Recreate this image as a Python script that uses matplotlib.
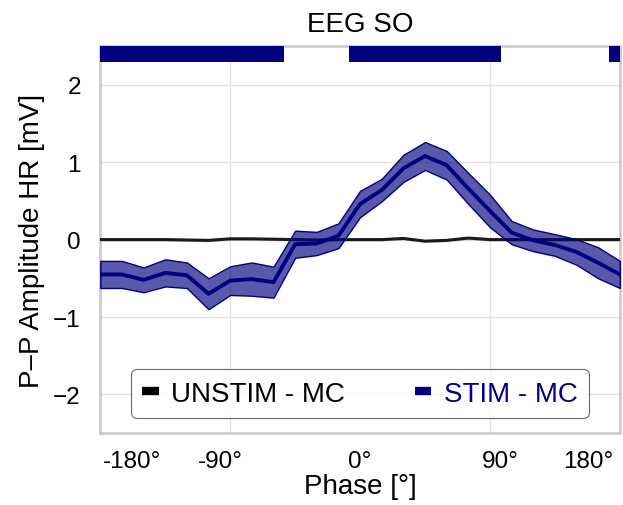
import numpy as np
import matplotlib.pyplot as plt
from matplotlib.lines import Line2D

plt.rcParams['font.family'] = ['Liberation Sans', 'DejaVu Sans']

# phase bins (deg)
phase = np.arange(-180, 181, 15)

# STIM - MC: mean and sem
stimMean = [-0.45, -0.45, -0.52, -0.43, -0.46, -0.70, -0.53, -0.51, -0.55,
            -0.06, -0.05, 0.05, 0.46, 0.64, 0.92, 1.08, 0.96, 0.66, 0.37,
            0.09, -0.01, -0.07, -0.16, -0.30, -0.45]
stimSem = [0.175, 0.175, 0.16, 0.175, 0.165, 0.20, 0.185, 0.215, 0.20,
           0.175, 0.15, 0.16, 0.17, 0.145, 0.175, 0.18, 0.185, 0.20, 0.21,
           0.15, 0.14, 0.14, 0.165, 0.20, 0.175]

# UNSTIM - MC: mean and sem
unstimMean = [0.0, 0.0, 0.0, 0.0, -0.005, -0.01, 0.01, 0.01, 0.005,
              0.0, -0.005, 0.0, 0.0, 0.0, 0.015, -0.02, -0.01, 0.02, 0.0,
              0.0, 0.0, 0.0, 0.0, 0.0, 0.0]
unstimSem = [0.02] * len(phase)

# significant bins (STIM vs MC)
significant = [1, 1, 1, 1, 1, 1, 1, 1, 1, 0, 0, 0, 1, 1, 1, 1, 1, 1, 1,
               0, 0, 0, 0, 0, 1]

tickPos = [-158, -97, 0, 97, 158]
tickLabels = ["-180°", "-90°", "0°", "90°", "180°"]

fig = plt.figure(figsize=(6.23, 5.06), dpi=100)
ax = fig.add_axes([0.161, 0.142, 0.834, 0.765])

stimMean = np.array(stimMean)
stimSem = np.array(stimSem)
unstimMean = np.array(unstimMean)
unstimSem = np.array(unstimSem)

ax.fill_between(phase, unstimMean - unstimSem, unstimMean + unstimSem,
                color="gray", alpha=0.3, lw=0, zorder=2)
ax.plot(phase, unstimMean, color="#1a1a1a", lw=2.2, zorder=3)
ax.fill_between(phase, stimMean - stimSem, stimMean + stimSem,
                facecolor=(0, 0, 0.5, 0.65), edgecolor="navy", lw=1, zorder=4)
ax.plot(phase, stimMean, color="navy", lw=2.8, zorder=5)

# significance bars on top
step = phase[1] - phase[0]
for p, s in zip(phase, significant):
    if s:
        ax.bar(p, 0.2, width=step, bottom=2.3, color="navy", lw=0, zorder=6)

ax.set_xlim(-180, 180)
ax.set_ylim(-2.5, 2.5)
ax.set_yticks([-2, -1, 0, 1, 2])
ax.set_xticks(tickPos)
ax.set_xticklabels(tickLabels)
ax.set_xticks([-90, 0, 90], minor=True)
ax.tick_params(axis="both", which="both", length=0, labelsize=17.5)
ax.tick_params(axis="y", pad=14)
ax.tick_params(axis="x", pad=12)
ax.grid(True, axis="y", color="#e3e3e3", lw=1)
ax.grid(True, axis="x", which="minor", color="#e3e3e3", lw=1)
ax.set_axisbelow(True)
for sp in ax.spines.values():
    sp.set_color("#cccccc")
    sp.set_linewidth(2)

ax.set_title("EEG SO", fontsize=20, pad=11)
ax.set_xlabel("Phase [°]", fontsize=20, labelpad=1)
ax.set_ylabel("P–P Amplitude HR [mV]", fontsize=20, labelpad=6)

handles = [Line2D([0], [0], color="black", lw=6, solid_capstyle="butt"),
           Line2D([0], [0], color="navy", lw=6, solid_capstyle="butt")]
leg = ax.legend(handles, ["UNSTIM - MC", "STIM - MC"], loc="lower center",
                ncol=2, fontsize=20, handlelength=0.6, handletextpad=0.45,
                columnspacing=2.5, frameon=True, fancybox=True,
                edgecolor="#444444", bbox_to_anchor=(0.5, 0.04),
                borderpad=0.4, borderaxespad=0)
leg.get_frame().set_linewidth(0.8)
leg.get_texts()[1].set_color("navy")

fig.savefig("out.png", dpi=100)
